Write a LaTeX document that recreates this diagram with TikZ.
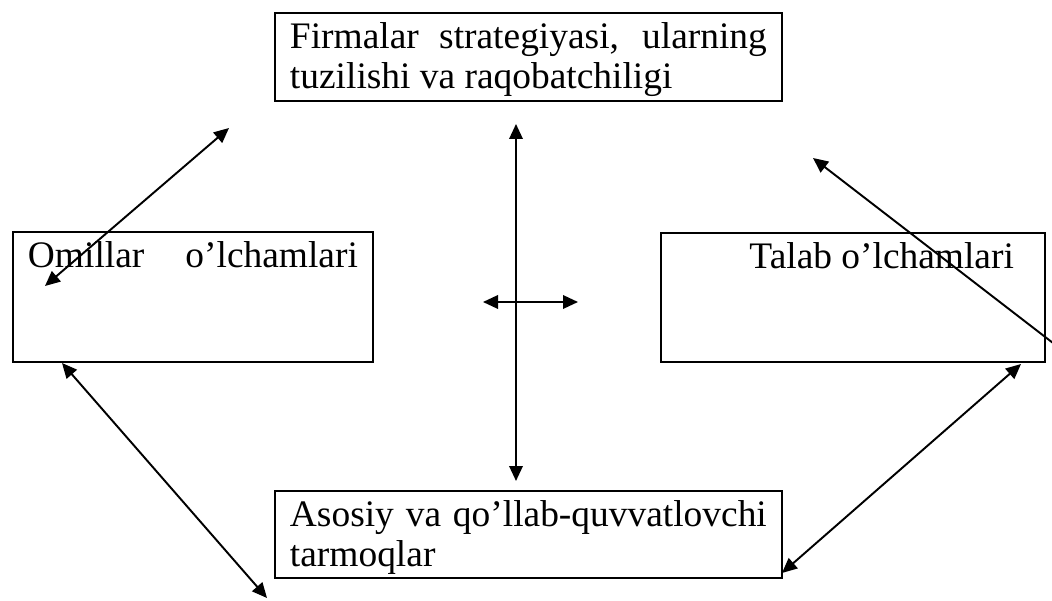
\documentclass[tikz,border=0pt]{standalone}
\usepackage{fontspec}
\setmainfont{Liberation Serif}
\usetikzlibrary{arrows.meta}

\begin{document}
\begin{tikzpicture}[
  x=0.02cm, y=-0.02cm,
  font=\fontsize{21.3}{22.5}\selectfont,
  box/.style={draw, line width=1.1pt, anchor=north west, inner xsep=0.3cm, inner ysep=0pt, text height=0.72cm},
  link/.style={{Triangle[length=0.3cm,width=0.27cm]}-{Triangle[length=0.3cm,width=0.27cm]}, line width=1.1pt},
  oneway/.style={-{Triangle[length=0.3cm,width=0.27cm]}, line width=1.1pt}
]
\useasboundingbox (0,0) rectangle (1052,601);

% boxes
\node[box, text depth=1.04cm] (firm) at (274,12) {\parbox[t]{9.54cm}{Firmalar strategiyasi, ularning\linebreak tuzilishi va raqobatchiligi}};
\node[box, text depth=1.88cm] (omil) at (12,231) {\parbox[t]{6.6cm}{Omillar\hfill o’lchamlari}};
\node[box, text depth=1.86cm] (talab) at (660,232) {\parbox[t]{7.08cm}{\raggedleft Talab o’lchamlari\hspace*{0.32cm}}};
\node[box, text depth=1.02cm] (tarmoq) at (274,490) {\parbox[t]{9.54cm}{Asosiy va qo’llab-quvvatlovchi\linebreak tarmoqlar}};

% arrow ends
\coordinate (firmL) at (229,128);
\coordinate (omilT) at (45,286);
\coordinate (firmC) at (516,124);
\coordinate (tarmoqC) at (516,481);
\coordinate (midL) at (483,302);
\coordinate (midR) at (578,302);
\coordinate (edgeR) at (1053,343);
\coordinate (firmR) at (813,158);
\coordinate (omilB) at (62,363);
\coordinate (tarmoqL) at (267,598);
\coordinate (talabB) at (1021,364);
\coordinate (tarmoqR) at (782,573);

% arrows
\draw[link] (firmL) -- (omilT);
\draw[link] (firmC) -- (tarmoqC);
\draw[link] (midL) -- (midR);
\draw[oneway] (edgeR) -- (firmR);
\draw[link] (omilB) -- (tarmoqL);
\draw[link] (talabB) -- (tarmoqR);

\end{tikzpicture}
\end{document}
